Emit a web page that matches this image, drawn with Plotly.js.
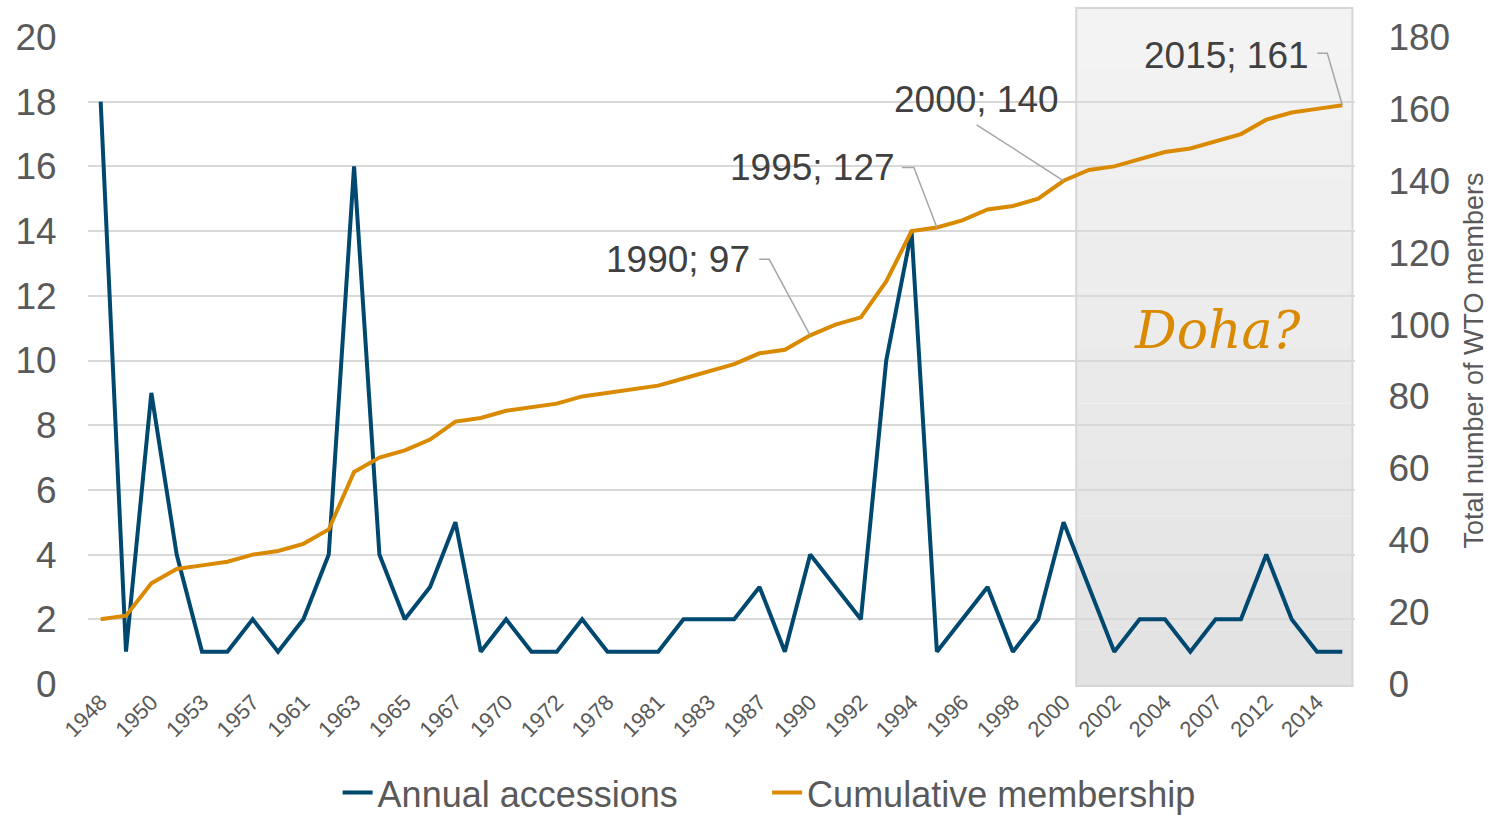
<!DOCTYPE html>
<html>
<head>
<meta charset="utf-8">
<script src="https://cdn.plot.ly/plotly-3.0.1.min.js"></script>
<style>
  html, body { margin: 0; padding: 0; background: #fff; }
  #chart { width: 1493px; height: 820px; }
</style>
</head>
<body>
<div id="chart"></div>
<script>
// years on the category axis (only every other one gets a label)
var years = ["1948","1949","1950","1951","1953","1955","1957","1959","1961","1962",
             "1963","1964","1965","1966","1967","1968","1970","1971","1972","1973",
             "1978","1979","1981","1982","1983","1986","1987","1988","1990","1991",
             "1992","1993","1994","1995","1996","1997","1998","1999","2000","2001",
             "2002","2003","2004","2005","2007","2008","2012","2013","2014","2015"];

var tickYears = ["1948","1950","1953","1957","1961","1963","1965","1967","1970","1972",
                 "1978","1981","1983","1987","1990","1992","1994","1996","1998","2000",
                 "2002","2004","2007","2012","2014"];

var annual = [18,1,9,4,1,1,2,1,2,4,
              16,4,2,3,5,1,2,1,1,2,
              1,1,1,2,2,2,3,1,4,3,
              2,10,14,1,2,3,1,2,5,3,
              1,2,2,1,2,2,4,2,1,1];

var cumulative = [18,19,28,32,33,34,36,37,39,43,
                  59,63,65,68,73,74,76,77,78,80,
                  81,82,83,85,87,89,92,93,97,100,
                  102,112,126,127,129,132,133,135,140,143,
                  144,146,148,149,151,153,157,159,160,161];

// labelled points: text offset from the point and the leader path (pixels)
var callouts = [
  {year: "1990", dx: -58, dy: 76, anchor: "right", path: "M-51,76 L-41,76 L0,0"},
  {year: "1995", dx: -40, dy: 60, anchor: "right", path: "M-35,60 L-23,60 L0,0"},
  {year: "2000", dx: -87, dy: 81, anchor: "center", path: "M-87,56 L0,0"},
  {year: "2015", dx: -31, dy: 50, anchor: "right", path: "M-25,52 L-15,52 L0,0"}
];

var BLUE = "#00486f";
var ORANGE = "#d98a00";
var GREY = "#595959";
var FONT = "Arial, 'Liberation Sans', sans-serif";

var trace1 = {
  x: years,
  y: annual,
  type: "scatter",
  mode: "lines",
  name: "Annual accessions",
  line: {color: BLUE, width: 4},
  yaxis: "y",
  legend: "legend"
};

var trace2 = {
  x: years,
  y: cumulative,
  type: "scatter",
  mode: "lines",
  name: "Cumulative membership",
  line: {color: ORANGE, width: 4},
  yaxis: "y2",
  legend: "legend2"
};

var shapes = [];
var annotations = [];

// shaded "Doha" period, light at top and darker at the bottom
var bands = 12;
for (var b = 0; b < bands; b++) {
  var t = b / (bands - 1);
  var c = Math.round(243 - t * 16);
  shapes.push({
    type: "rect", layer: "below",
    xref: "x", yref: "paper",
    x0: 38.5, x1: 49.4,
    y0: 1.045 - (b + 1) * (1.048 / bands),
    y1: 1.045 - b * (1.048 / bands),
    fillcolor: "rgb(" + c + "," + c + "," + (c + 1) + ")",
    line: {width: 0}
  });
}
shapes.push({
  type: "rect", layer: "below",
  xref: "x", yref: "paper",
  x0: 38.5, x1: 49.4, y0: -0.003, y1: 1.045,
  fillcolor: "rgba(0,0,0,0)",
  line: {color: "#d6d6d6", width: 2}
});

callouts.forEach(function (c) {
  var i = years.indexOf(c.year);
  var v = cumulative[i];
  annotations.push({
    x: i, y: v, xref: "x", yref: "y2",
    text: c.year + "; " + v,
    showarrow: false,
    xanchor: c.anchor, yanchor: "middle",
    xshift: c.dx, yshift: c.dy,
    font: {family: FONT, size: 37, color: "#404040"}
  });
  shapes.push({
    type: "path", layer: "above",
    xref: "x", yref: "y2",
    xsizemode: "pixel", ysizemode: "pixel",
    xanchor: i, yanchor: v,
    path: c.path,
    line: {color: "#a6a6a6", width: 1.5}
  });
});

annotations.push({
  x: 44.06, y: 10.94, xref: "x", yref: "y",
  text: "<i>Doha?</i>",
  showarrow: false,
  xanchor: "center", yanchor: "middle",
  font: {family: "DejaVu Serif", size: 52, color: ORANGE}
});

var legendStyle = {
  orientation: "h",
  xanchor: "left",
  y: -0.168, yanchor: "middle",
  borderwidth: 0,
  font: {family: FONT, size: 36, color: GREY}
};

var layout = {
  width: 1493,
  height: 820,
  margin: {l: 88, r: 138, t: 37, b: 136, autoexpand: false},
  paper_bgcolor: "#ffffff",
  plot_bgcolor: "rgba(0,0,0,0)",
  font: {family: FONT, color: GREY},
  showlegend: true,
  legend: Object.assign({x: 0.197}, legendStyle),
  legend2: Object.assign({x: 0.536}, legendStyle),
  xaxis: {
    type: "category",
    range: [-0.5, 49.5],
    tickvals: tickYears,
    ticktext: tickYears,
    tickangle: -45,
    tickfont: {family: FONT, size: 22, color: GREY},
    showgrid: false,
    zeroline: false,
    showline: false,
    ticks: "",
    automargin: false
  },
  yaxis: {
    range: [0, 20],
    dtick: 2,
    tick0: 0,
    showgrid: true,
    gridcolor: "#d9d9d9",
    gridwidth: 2,
    zeroline: false,
    showline: false,
    ticks: "outside",
    ticklen: 23,
    tickcolor: "rgba(0,0,0,0)",
    tickfont: {family: FONT, size: 37, color: GREY},
    automargin: false
  },
  yaxis2: {
    overlaying: "y",
    side: "right",
    range: [0, 180],
    dtick: 20,
    tick0: 0,
    showgrid: false,
    zeroline: false,
    showline: false,
    ticks: "outside",
    ticklen: 25,
    tickcolor: "rgba(0,0,0,0)",
    tickfont: {family: FONT, size: 37, color: GREY},
    title: {text: "Total number of WTO members", font: {family: FONT, size: 27, color: GREY}, standoff: 14},
    automargin: false
  },
  shapes: shapes,
  annotations: annotations
};

Plotly.newPlot("chart", [trace1, trace2], layout, {displayModeBar: false, staticPlot: true});
</script>
</body>
</html>
